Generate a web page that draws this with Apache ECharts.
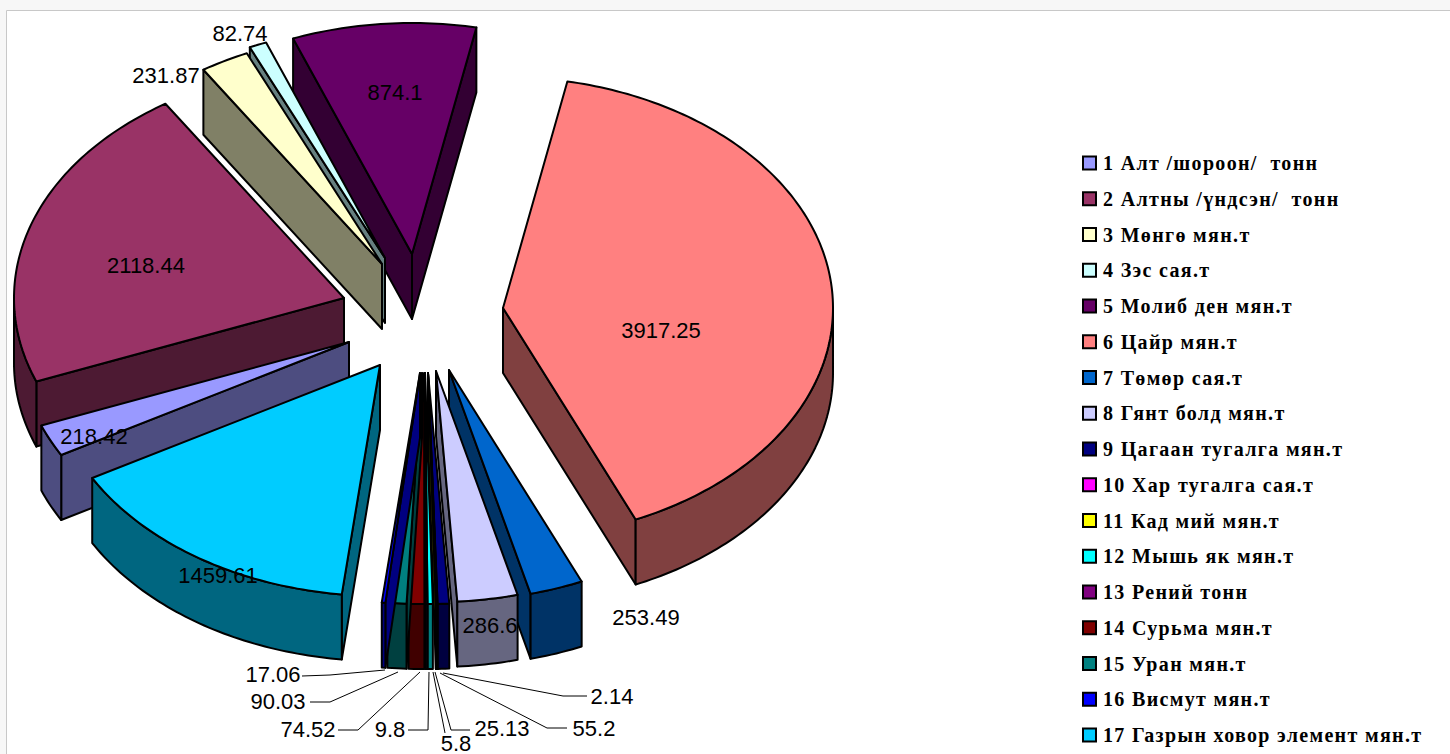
<!DOCTYPE html>
<html><head><meta charset="utf-8">
<style>html,body{margin:0;padding:0;background:#fff}#c{width:1450px;height:754px}
#c text[style*="Serif"],#c tspan[style*="Serif"]{letter-spacing:1.33px}</style>
<script src="https://cdn.jsdelivr.net/npm/echarts@6/dist/echarts.min.js"></script>
</head><body><div id="c"></div>
<script>
const categories = ["1 Алт /шороон/  тонн","2 Алтны /үндсэн/  тонн","3 Мөнгө мян.т","4 Зэс сая.т","5 Молиб ден мян.т","6 Цайр мян.т","7 Төмөр сая.т","8 Гянт болд мян.т","9 Цагаан тугалга мян.т","10 Хар тугалга сая.т","11 Кад мий мян.т","12 Мышь як мян.т","13 Рений тонн","14 Сурьма мян.т","15 Уран мян.т","16 Висмут мян.т","17 Газрын ховор элемент мян.т"];
const values = [218.42,2118.44,231.87,82.74,874.1,3917.25,253.49,286.6,55.2,2.14,5.8,25.13,9.8,74.52,90.03,17.06,1459.61];
const colors = ["#9999FF","#993366","#FFFFCC","#CCFFFF","#660066","#FF8080","#0066CC","#CCCCFF","#000080","#FF00FF","#FFFF00","#00FFFF","#800080","#800000","#008080","#0000FF","#00CCFF"];

// Layout of the exploded 3D pie (pixels)
const startAngle = 240.7, radius = 330, tilt = 0.7, depth = 65;
const apexes = [[349,342],[344,298],[382,264],[385,258],[412,254],[503,308],[449,370],[436,371],[428,373],[428,373],[428,373],[425,373],[425,373],[424,373],[422,373],[420,373],[380,365]];
const paintOrder = [4,3,2,1,0,5,6,7,8,9,10,11,12,13,14,15,16];
// text x,y (centre) and optional leader polyline
const labelLayout = [
 {p:[94,436]},{p:[146,265]},{p:[166,75]},{p:[240,33]},{p:[395,92]},{p:[661,330]},{p:[646,617]},{p:[490,625]},
 {p:[594,728],l:[[567,728],[547,728],[440,673]]},
 {p:[612,696],l:[[587,696],[563,696],[443,673]]},
 {p:[456,743],l:[[445,733],[433,672]]},
 {p:[502,728],l:[[470,730],[451,730],[435,672]]},
 {p:[390,729],l:[[408,730],[428,730],[429,672]]},
 {p:[308,729],l:[[338,730],[358,730],[420,672]]},
 {p:[278,701],l:[[310,702],[330,702],[398,672]]},
 {p:[273,674],l:[[302,676],[330,675],[385,670]]},
 {p:[218,575]}
];

const total = values.reduce((a,b)=>a+b,0);
const starts = []; { let acc = startAngle; values.forEach(v=>{starts.push(acc%360); acc += v/total*360;}); }
const shade = hex => { const n=parseInt(hex.slice(1),16); const f=c=>Math.round(c*0.5);
  return `rgb(${f(n>>16&255)},${f(n>>8&255)},${f(n&255)})`; };
const sinD = d => Math.sin(d*Math.PI/180);
const pt = (ap,deg,dy=0) => { const a=deg*Math.PI/180; return [ap[0]+radius*Math.sin(a), ap[1]-radius*Math.cos(a)*tilt+dy]; };
const OUT = {stroke:'#000',lineWidth:2,lineJoin:'round'};

function sliceRender(i){ return function(params,api){
  const v = api.value(0), a0 = starts[i], a1 = a0 + v/total*360, ap = apexes[i];
  const children = [];
  const poly = (points,fill)=>children.push({type:'polygon',shape:{points},style:Object.assign({fill},OUT)});
  const side = shade(colors[i]);
  const apd = [ap[0],ap[1]+depth];
  // a cut face shows only if it looks downward on screen
  if (sinD(a0) < 0) poly([ap,pt(ap,a0),pt(ap,a0,depth),apd],side);
  if (sinD(a1) > 0) poly([ap,pt(ap,a1),pt(ap,a1,depth),apd],side);
  // outer wall: only the part of the rim facing the viewer
  const w0 = Math.max(a0,90), w1 = Math.min(a1,270);
  if (w1 > w0){
    const up=[],dn=[]; const n=Math.max(1,Math.ceil(w1-w0));
    for(let k=0;k<=n;k++){const d=w0+(w1-w0)*k/n; up.push(pt(ap,d)); dn.unshift(pt(ap,d,depth));}
    poly(up.concat(dn),side);
  }
  const top=[ap]; const n=Math.max(1,Math.ceil(a1-a0));
  for(let k=0;k<=n;k++) top.push(pt(ap,a0+(a1-a0)*k/n));
  poly(top,colors[i]);
  return {type:'group',children};
};}

const series = categories.map((name,i)=>({
  type:'custom',name,coordinateSystem:'none',silent:true,
  z:10+paintOrder.indexOf(i),
  itemStyle:{color:colors[i]},
  data:[values[i]],
  renderItem:sliceRender(i)
}));
series.push({
  type:'custom',name:'labels',coordinateSystem:'none',silent:true,z:60,
  data:values.map(v=>[v]),
  renderItem(params,api){
    const i=params.dataIndex, L=labelLayout[i], ch=[];
    if(L.l) ch.push({type:'polyline',shape:{points:L.l},style:{stroke:'#000',lineWidth:1,fill:null}});
    ch.push({type:'text',style:{text:String(api.value(0)),x:L.p[0],y:L.p[1],align:'center',verticalAlign:'middle',
      font:'22px "Liberation Sans"',fill:'#000'}});
    return {type:'group',children:ch};
  }
});

const chart = echarts.init(document.getElementById('c'),null,{renderer:'svg'});
chart.setOption({
  animation:false,
  backgroundColor:'#f7f7f7',
  graphic:[{type:'rect',z:-1,shape:{x:6.5,y:10.5,width:1500,height:800},style:{fill:'#fff',stroke:'#c8c8c8',lineWidth:1}}],
  legend:{
    data:categories,orient:'vertical',left:1077,top:148,itemWidth:13,itemHeight:13,itemGap:15.75,selectedMode:false,
    icon:'rect',itemStyle:{borderColor:'#000',borderWidth:2},
    textStyle:{fontFamily:'Liberation Serif',fontSize:20,fontWeight:'bold',color:'#000',padding:[0,0,0,2]}
  },
  series
});
</script></body></html>
